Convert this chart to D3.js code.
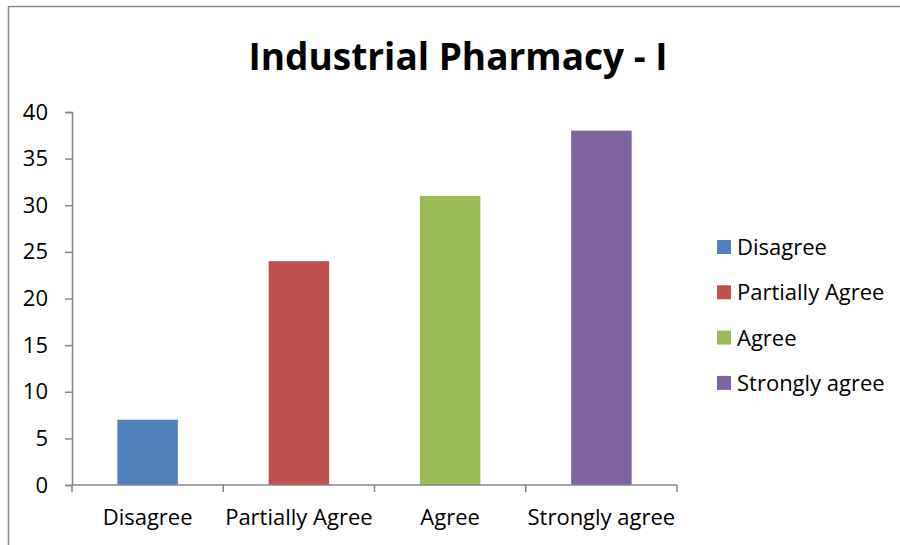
<!DOCTYPE html>
<html>
<head>
<meta charset="utf-8">
<script src="https://cdn.jsdelivr.net/npm/d3@7"></script>
<style>
  body { margin: 0; background: #fff; }
  svg { display: block; font-family: "Open Sans", "Noto Sans", sans-serif; }
</style>
</head>
<body>
<svg id="vis" width="900" height="545"></svg>
<script>
// data
const categories = ["Disagree", "Partially Agree", "Agree", "Strongly agree"];
const values = [7, 24, 31, 38];
const colors = ["#4F81BD", "#C0504D", "#9BBB59", "#8064A2"];
const yTicks = [0, 5, 10, 15, 20, 25, 30, 35, 40];

const svg = d3.select("#vis");

// outer frame (only top and left edges visible)
svg.append("path")
  .attr("d", "M8.5,545 V6.5 H900")
  .attr("fill", "none")
  .attr("stroke", "#8c8c8c")
  .attr("stroke-width", 1.5);

const plotLeft = 72, plotRight = 677, plotTop = 112, plotBottom = 485;

const x = d3.scaleBand()
  .domain(categories)
  .range([plotLeft, plotRight])
  .paddingInner(0.6)
  .paddingOuter(0.3);

const y = d3.scaleLinear()
  .domain([0, 40])
  .range([plotBottom, plotTop]);

// title
svg.append("text")
  .attr("x", 458)
  .attr("y", 70)
  .attr("text-anchor", "middle")
  .attr("font-size", "37px")
  .attr("font-weight", "bold")
  .attr("fill", "#000")
  .text("Industrial Pharmacy - I");

// bars
svg.selectAll("rect.bar")
  .data(categories)
  .enter()
  .append("rect")
  .attr("class", "bar")
  .attr("x", d => x(d))
  .attr("width", x.bandwidth())
  .attr("y", (d, i) => y(values[i]))
  .attr("height", (d, i) => plotBottom - y(values[i]))
  .attr("fill", (d, i) => colors[i]);

// y axis
const yAxis = svg.append("g")
  .attr("transform", `translate(${plotLeft},0)`)
  .call(d3.axisLeft(y).tickValues(yTicks).tickSize(7).tickSizeOuter(7).tickPadding(17));
yAxis.select(".domain").attr("stroke", "#868686").attr("stroke-width", 1.5);
yAxis.selectAll(".tick line").attr("stroke", "#868686").attr("stroke-width", 1.5);
yAxis.selectAll(".tick text")
  .attr("font-size", "22px")
  .attr("font-family", "Open Sans, sans-serif")
  .attr("fill", "#000");

// x axis: ticks between categories
const step = (plotRight - plotLeft) / categories.length;
const xAxis = svg.append("g")
  .attr("transform", `translate(0,${plotBottom})`);
xAxis.append("line")
  .attr("x1", plotLeft).attr("x2", plotRight)
  .attr("stroke", "#868686").attr("stroke-width", 1.5);
xAxis.selectAll("line.tick")
  .data(d3.range(categories.length + 1))
  .enter()
  .append("line")
  .attr("class", "tick")
  .attr("x1", i => plotLeft + i * step)
  .attr("x2", i => plotLeft + i * step)
  .attr("y1", 0).attr("y2", 7)
  .attr("stroke", "#868686").attr("stroke-width", 1.5);
xAxis.selectAll("text")
  .data(categories)
  .enter()
  .append("text")
  .attr("x", d => x(d) + x.bandwidth() / 2)
  .attr("y", 40)
  .attr("text-anchor", "middle")
  .attr("font-size", "22px")
  .attr("fill", "#000")
  .text(d => d);

// legend
const legend = svg.append("g").attr("transform", "translate(717,247)");
const items = legend.selectAll("g")
  .data(categories)
  .enter()
  .append("g")
  .attr("transform", (d, i) => `translate(0,${i * 45.3})`);
items.append("rect")
  .attr("x", 0).attr("y", -7)
  .attr("width", 14).attr("height", 14)
  .attr("fill", (d, i) => colors[i]);
items.append("text")
  .attr("x", 20)
  .attr("y", 8)
  .attr("font-size", "22px")
  .attr("fill", "#000")
  .text(d => d);
</script>
</body>
</html>
